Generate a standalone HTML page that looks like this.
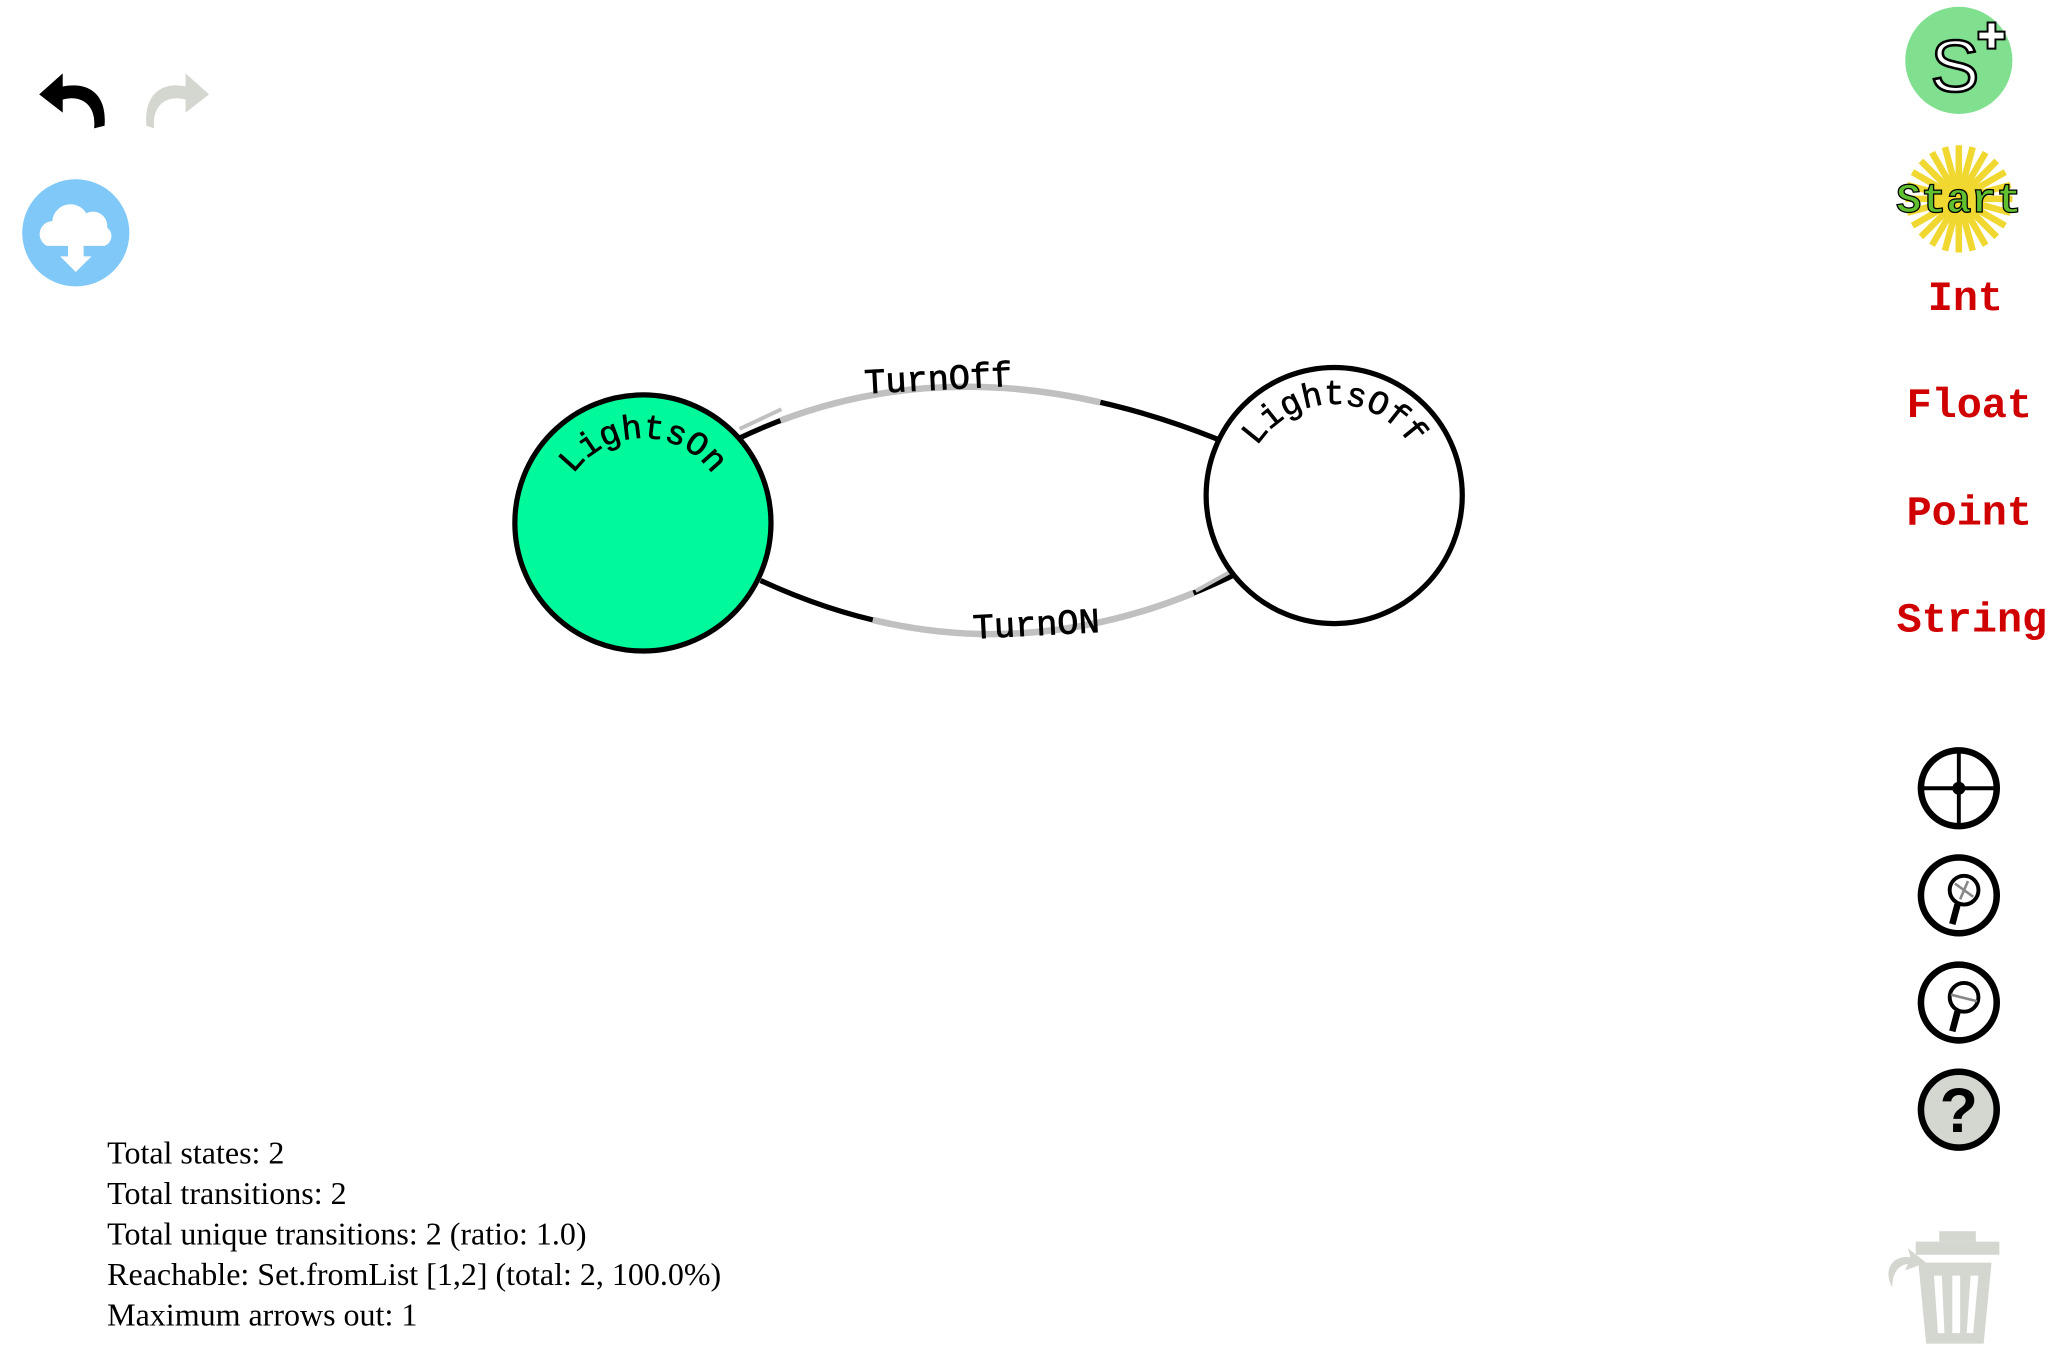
<!DOCTYPE html>
<html><head><meta charset="utf-8"><style>
html,body{margin:0;padding:0;background:#fff;}
svg{display:block}
</style></head><body>
<svg width="2049" height="1353" viewBox="0 0 1568 1035" xmlns="http://www.w3.org/2000/svg">
<defs>
<path id="arcOn" d="M 427 400 A 65 65 0 0 1 557 400"/>
<path id="arcOff" d="M 951 379 A 70 70 0 0 1 1091 379"/>
</defs>
<!-- undo / redo -->
<path d="M80 96 C82 72 68 62 48 66 L48 56 L30 72 L48 86 L48 76 C62 72 74 80 72 98 Z" fill="#000"/>
<path d="M112 96 C110 72 124 62 142 66 L142 56 L160 72 L142 86 L142 76 C128 72 116 80 118 98 Z" fill="#d4d6d0"/>
<!-- cloud -->
<circle cx="58" cy="178" r="41" fill="#80c8f8"/>
<path d="M36 188 a10 10 0 0 1 4-19 a14 14 0 0 1 26-6 a11 11 0 0 1 16 11 a8 8 0 0 1-2 14 Z" fill="#fff"/>
<path d="M52 186 L64 186 L64 196 L70 196 L58 208 L46 196 L52 196 Z" fill="#fff"/>
<!-- edges -->
<path d="M566 335 Q 732 256 932 336" fill="none" stroke="#000" stroke-width="4"/>
<path d="M566 335 Q 732 256 932 336" pathLength="100" fill="none" stroke="#c0c0c0" stroke-width="5" stroke-dasharray="0 9 66 200"/>
<path d="M566 328 L598 313" fill="none" stroke="#c0c0c0" stroke-width="3"/>
<path d="M582 444 Q 765 529 948 438" fill="none" stroke="#000" stroke-width="4"/>
<path d="M582 444 Q 765 529 948 438" pathLength="100" fill="none" stroke="#c0c0c0" stroke-width="5" stroke-dasharray="0 24 66 200"/>
<path d="M915 452 L944 436" fill="none" stroke="#c0c0c0" stroke-width="3"/>
<text x="718" y="298" font-family="Liberation Mono, monospace" font-size="27" stroke="#000" stroke-width="0.6" text-anchor="middle" transform="rotate(-3 718 290)">TurnOff</text>
<text x="793" y="486" font-family="Liberation Mono, monospace" font-size="27" stroke="#000" stroke-width="0.6" text-anchor="middle" transform="rotate(-3 793 478)">TurnON</text>
<!-- nodes -->
<circle cx="492" cy="400" r="98" fill="#00f99a" stroke="#000" stroke-width="4"/>
<circle cx="1021" cy="379" r="98" fill="#fff" stroke="#000" stroke-width="4"/>
<text font-family="Liberation Mono, monospace" font-size="26" stroke="#000" stroke-width="0.5"><textPath href="#arcOn" startOffset="50%" text-anchor="middle">LightsOn</textPath></text>
<text font-family="Liberation Mono, monospace" font-size="26" stroke="#000" stroke-width="0.5"><textPath href="#arcOff" startOffset="50%" text-anchor="middle">LightsOff</textPath></text>
<!-- right toolbar -->
<circle cx="1499" cy="46" r="41" fill="#80e090"/>
<text x="1496" y="70" font-family="Liberation Sans, sans-serif" font-size="56" fill="#fff" stroke="#000" stroke-width="2" text-anchor="middle">S</text>
<path d="M1514 24 h7 v-7 h6 v7 h7 v6 h-7 v7 h-6 v-7 h-7 Z" fill="#fff" stroke="#000" stroke-width="1.5"/>
<g transform="translate(1499 152)" stroke="#f0d830" stroke-width="5">
<line x1="0" y1="-41" x2="0" y2="41"/>
<line x1="-41" y1="0" x2="41" y2="0" transform="rotate(15)"/>
<line x1="-41" y1="0" x2="41" y2="0" transform="rotate(30)"/>
<line x1="-41" y1="0" x2="41" y2="0" transform="rotate(45)"/>
<line x1="-41" y1="0" x2="41" y2="0" transform="rotate(60)"/>
<line x1="-41" y1="0" x2="41" y2="0" transform="rotate(75)"/>
<line x1="-41" y1="0" x2="41" y2="0" transform="rotate(105)"/>
<line x1="-41" y1="0" x2="41" y2="0" transform="rotate(120)"/>
<line x1="-41" y1="0" x2="41" y2="0" transform="rotate(135)"/>
<line x1="-41" y1="0" x2="41" y2="0" transform="rotate(150)"/>
<line x1="-41" y1="0" x2="41" y2="0" transform="rotate(165)"/>
<line x1="-41" y1="0" x2="41" y2="0"/>
</g>
<text x="1499" y="162" font-family="Liberation Mono, monospace" font-weight="bold" font-size="32" fill="#60c030" stroke="#000" stroke-width="1" text-anchor="middle">Start</text>
<g font-family="Liberation Mono, monospace" font-weight="bold" font-size="32" fill="#d00000" text-anchor="middle">
<text x="1504" y="237">Int</text>
<text x="1507" y="319">Float</text>
<text x="1507" y="401">Point</text>
<text x="1509" y="483">String</text>
</g>
<g fill="none" stroke="#000" stroke-width="5">
<circle cx="1499" cy="603" r="29"/>
<circle cx="1499" cy="685" r="29"/>
<circle cx="1499" cy="767" r="29"/>
<circle cx="1499" cy="849" r="29" fill="#d4d6d0"/>
</g>
<g stroke="#000" stroke-width="3">
<line x1="1471" y1="603" x2="1527" y2="603"/><line x1="1499" y1="575" x2="1499" y2="631"/>
</g>
<circle cx="1499" cy="603" r="5"/>
<circle cx="1503" cy="681" r="11" fill="#fff" stroke="#000" stroke-width="3"/>
<line x1="1498" y1="692" x2="1494" y2="707" stroke="#000" stroke-width="5"/>
<path d="M1496 676 L1510 686 M1506 674 L1500 688" stroke="#888" stroke-width="2"/>
<circle cx="1503" cy="763" r="11" fill="#fff" stroke="#000" stroke-width="3"/>
<line x1="1498" y1="774" x2="1494" y2="789" stroke="#000" stroke-width="5"/>
<line x1="1493" y1="761" x2="1513" y2="766" stroke="#888" stroke-width="2"/>
<text x="1499" y="866" font-family="Liberation Sans, sans-serif" font-weight="bold" font-size="48" text-anchor="middle">?</text>
<!-- trash -->
<g fill="#d4d6d0">
<rect x="1484" y="942" width="28" height="8"/>
<rect x="1466" y="950" width="64" height="10"/>
<path d="M1468 966 L1524 966 L1518 1028 L1474 1028 Z"/>
</g>
<g fill="#fff"><path d="M1480 976 L1486 976 L1488 1020 L1483 1020 Z"/><path d="M1494 976 L1500 976 L1500 1020 L1494 1020 Z"/><path d="M1508 976 L1514 976 L1510 1020 L1505 1020 Z"/></g>
<path d="M1448 985 C1440 970 1450 960 1462 962 L1460 955 L1474 966 L1458 972 L1460 967 C1452 968 1448 975 1448 985 Z" fill="#d4d6d0"/>
<!-- stats -->
<g font-family="Liberation Serif, serif" font-size="24.5" fill="#000">
<text x="82" y="890">Total states: 2</text>
<text x="82" y="921">Total transitions: 2</text>
<text x="82" y="952">Total unique transitions: 2 (ratio: 1.0)</text>
<text x="82" y="983">Reachable: Set.fromList [1,2] (total: 2, 100.0%)</text>
<text x="82" y="1014">Maximum arrows out: 1</text>
</g>
</svg>
</body></html>
